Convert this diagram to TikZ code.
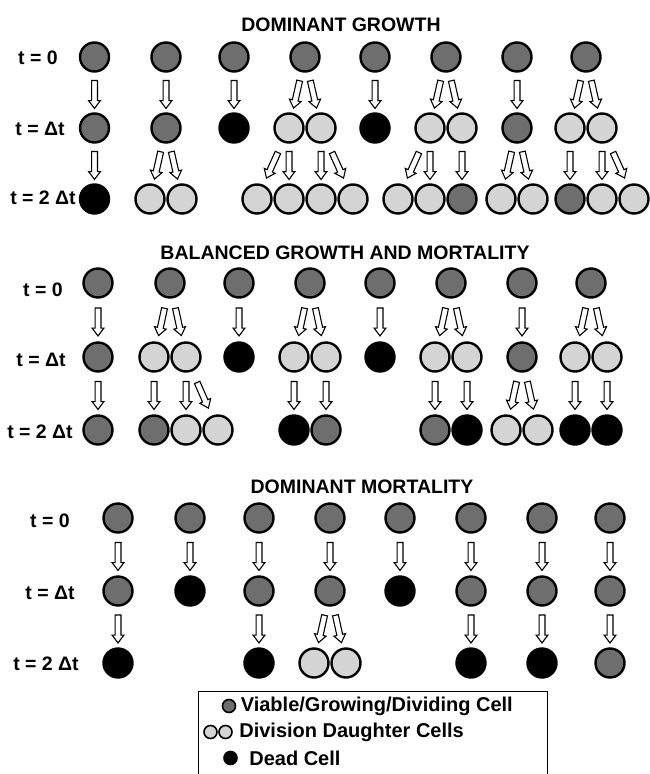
\documentclass[tikz,border=0pt]{standalone}
\usepackage{fontspec}
\setmainfont{Liberation Sans}
\usepackage{tikz}
\usetikzlibrary{shapes.arrows, positioning}

\definecolor{livegray}{gray}{0.43}
\definecolor{budgray}{gray}{0.83}

\begin{document}
\begin{tikzpicture}[
  x=1pt, y=-1pt,
  cell/.style={circle, draw, line width=2.4pt, minimum size=29pt, inner sep=0pt},
  live/.style={cell, fill=livegray},
  bud/.style={cell, fill=budgray},
  dead/.style={cell, fill=black},
  keycell/.style={line width=1.6pt, minimum size=13pt},
  arr/.style={single arrow, draw, fill=white, line width=1.1pt, minimum height=28pt,
    inner xsep=0pt, inner ysep=2.4pt, single arrow head extend=3pt,
    single arrow tip angle=74, single arrow head indent=0pt, sloped, allow upside down},
  title/.style={font=\fontsize{19.5}{22}\selectfont\bfseries},
  tlabel/.style={font=\fontsize{19.5}{22}\selectfont\bfseries},
  key/.style={font=\fontsize{20}{22}\selectfont\bfseries},
]
\useasboundingbox (0,0) rectangle (650,774);

% Dominant growth
\node[title] (gtitle) at (341,25) {DOMINANT GROWTH};
\node[tlabel] (gt0) at (38,58) {t = 0};
\node[tlabel] (gt1) at (40,129) {t = Δt};
\node[tlabel] (gt2) at (43,198) {t = 2 Δt};

\foreach \x [count=\i] in {94.5,166,234,305,375,446,517,586}
  \node[live] (g0\i) at (\x,57) {};
\foreach \s/\n/\x in {live/g11/94.5, live/g12/166, dead/g13/234, bud/g14l/289, bud/g14r/321,
    dead/g15/375, bud/g16l/430, bud/g16r/462, live/g17/517, bud/g18l/570, bud/g18r/602}
  \node[\s] (\n) at (\x,128) {};
\foreach \s/\n/\x in {dead/g2a/94.5, bud/g2b/150, bud/g2c/182, bud/g2d/257, bud/g2e/289,
    bud/g2f/321, bud/g2g/353, bud/g2h/398, bud/g2i/430, live/g2j/462, bud/g2k/501,
    bud/g2l/533, live/g2m/570, bud/g2n/602, bud/g2o/634}
  \node[\s] (\n) at (\x,199) {};

\foreach \p/\c in {g01/g11, g02/g12, g03/g13, g04/g14l, g04/g14r, g05/g15, g06/g16l,
    g06/g16r, g07/g17, g08/g18l, g08/g18r,
    g11/g2a, g12/g2b, g12/g2c, g14l/g2d, g14l/g2e, g14r/g2f, g14r/g2g, g16l/g2h,
    g16l/g2i, g16r/g2j, g17/g2k, g17/g2l, g18l/g2m, g18r/g2n, g18r/g2o}
  \path (\p) -- node[arr] {} (\c);

% Balanced growth and mortality
\node[title] (btitle) at (345,253) {BALANCED GROWTH AND MORTALITY};
\node[tlabel] (bt0) at (43,290) {t = 0};
\node[tlabel] (bt1) at (41,360) {t = Δt};
\node[tlabel] (bt2) at (40,432) {t = 2 Δt};

\foreach \x [count=\i] in {98,170,239,310,380,451,522,591}
  \node[live] (b0\i) at (\x,283) {};
\foreach \s/\n/\x in {live/b11/98, bud/b12l/154, bud/b12r/186, dead/b13/239, bud/b14l/294,
    bud/b14r/326, dead/b15/380, bud/b16l/435, bud/b16r/467, live/b17/522, bud/b18l/575,
    bud/b18r/607}
  \node[\s] (\n) at (\x,357) {};
\foreach \s/\n/\x in {live/b2a/98, live/b2b/154, bud/b2c/186, bud/b2d/218, dead/b2e/294,
    live/b2f/326, live/b2g/435, dead/b2h/467, bud/b2i/506, bud/b2j/538, dead/b2k/575,
    dead/b2l/607}
  \node[\s] (\n) at (\x,430) {};

\foreach \p/\c in {b01/b11, b02/b12l, b02/b12r, b03/b13, b04/b14l, b04/b14r, b05/b15,
    b06/b16l, b06/b16r, b07/b17, b08/b18l, b08/b18r,
    b11/b2a, b12l/b2b, b12r/b2c, b12r/b2d, b14l/b2e, b14r/b2f, b16l/b2g, b16r/b2h,
    b17/b2i, b17/b2j, b18l/b2k, b18r/b2l}
  \path (\p) -- node[arr] {} (\c);

% Dominant mortality
\node[title] (mtitle) at (362,487) {DOMINANT MORTALITY};
\node[tlabel] (mt0) at (50,521) {t = 0};
\node[tlabel] (mt1) at (50,593) {t = Δt};
\node[tlabel] (mt2) at (46,664) {t = 2 Δt};

\foreach \x [count=\i] in {118,190,259,330,400,471,542,610}
  \node[live] (m0\i) at (\x,518) {};
\foreach \s/\n/\x in {live/m11/118, dead/m12/190, live/m13/259, live/m14/330,
    dead/m15/400, live/m16/471, live/m17/542, live/m18/610}
  \node[\s] (\n) at (\x,591) {};
\foreach \s/\n/\x in {dead/m2a/118, dead/m2b/259, bud/m2c/314, bud/m2d/346,
    dead/m2e/471, dead/m2f/542, live/m2g/610}
  \node[\s] (\n) at (\x,663) {};

\foreach \i in {1,...,8}
  \path (m0\i) -- node[arr] {} (m1\i);
\foreach \p/\c in {m11/m2a, m13/m2b, m14/m2c, m14/m2d, m16/m2e, m17/m2f, m18/m2g}
  \path (\p) -- node[arr] {} (\c);

% Key
\draw[line width=1pt] (198,774) |- (547,691) -- (547,774);
\node[live, keycell] (klive) at (229,706) {};
\node[key, right=1pt of klive] (tlive) {Viable/Growing/Dividing Cell};
\node[bud, keycell] (kbud1) at (210.5,732) {};
\node[bud, keycell] (kbud2) at (225.5,732) {};
\node[key, right=3pt of kbud2] (tbud) {Division Daughter Cells};
\node[dead, keycell] (kdead) at (230.5,758) {};
\node[key, right=8pt of kdead] (tdead) {Dead Cell};

\end{tikzpicture}
\end{document}
